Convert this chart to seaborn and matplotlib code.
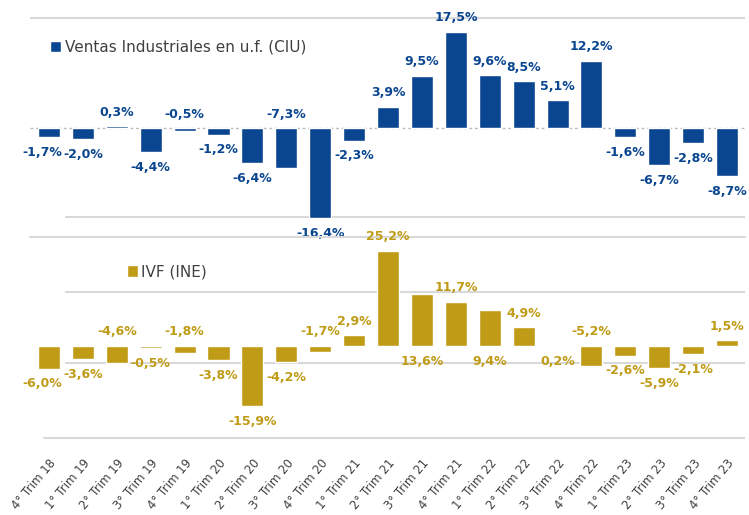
import matplotlib
matplotlib.use("Agg")
import matplotlib.pyplot as plt
from matplotlib.patches import Patch
import seaborn as sns
import pandas as pd

trimestres = ["4° Trim 18", "1° Trim 19", "2° Trim 19", "3° Trim 19", "4° Trim 19",
              "1° Trim 20", "2° Trim 20", "3° Trim 20", "4° Trim 20",
              "1° Trim 21", "2° Trim 21", "3° Trim 21", "4° Trim 21",
              "1° Trim 22", "2° Trim 22", "3° Trim 22", "4° Trim 22",
              "1° Trim 23", "2° Trim 23", "3° Trim 23", "4° Trim 23"]
ventas_ciu = [-1.7, -2.0, 0.3, -4.4, -0.5, -1.2, -6.4, -7.3, -16.4, -2.3, 3.9,
              9.5, 17.5, 9.6, 8.5, 5.1, 12.2, -1.6, -6.7, -2.8, -8.7]
ivf_ine = [-6.0, -3.6, -4.6, -0.5, -1.8, -3.8, -15.9, -4.2, -1.7, 2.9, 25.2,
           13.6, 11.7, 9.4, 4.9, 0.2, -5.2, -2.6, -5.9, -2.1, 1.5]
# a = etiqueta arriba, b = etiqueta abajo (como en el original)
pos_ciu = ["b", "b", "a", "b", "a", "b", "b", "a", "b", "b", "a",
           "a", "a", "a", "a", "a", "a", "b", "b", "b", "b"]
pos_ivf = ["b", "b", "a", "b", "a", "b", "b", "b", "a", "a", "a",
           "b", "a", "b", "a", "b", "a", "b", "b", "b", "a"]

AZUL = "#0A4690"
ORO = "#C09B16"
GRIS = "#D9D9D9"
TXT = "#404040"

df = pd.DataFrame({"trim": trimestres, "ciu": ventas_ciu, "ivf": ivf_ine})

sns.set_theme(style="white")
plt.rcParams["font.family"] = ["DejaVu Sans"]

W, H = 749, 515
fig = plt.figure(figsize=(W / 100, H / 100), dpi=100)
L, R = 30, 745
ax1 = fig.add_axes([L / W, 1 - 237 / H, (R - L) / W, 223 / H])
ax2 = fig.add_axes([L / W, 1 - 440 / H, (R - L) / W, 203 / H])

xlim = (-0.56, 20.53)


def etiquetas(ax, vals, pos, color):
    for i, (v, p) in enumerate(zip(vals, pos)):
        txt = f"{v:.1f}%".replace(".", ",")
        if p == "a":
            y, off = max(v, 0), 10
        else:
            y, off = min(v, 0), -11
        dx = -5 if i == 0 else 0
        ax.annotate(txt, (i, y), xytext=(dx, off), textcoords="offset points",
                    ha="center", va="center", fontsize=9, fontweight="bold",
                    color=color)


# panel superior
sns.barplot(data=df, x="trim", y="ciu", color=AZUL, saturation=1, width=0.65, ax=ax1)
ax1.set_xlim(xlim)
ax1.set_ylim(-19.8, 20.7)
ax1.axhline(20, color=GRIS, lw=1.5, zorder=0)
ax1.axhline(-16.2, xmin=0.05, color=GRIS, lw=1.5, zorder=0)
ax1.axhline(0, color="#BBBBBB", lw=1, ls=(0, (2, 2)), zorder=0)
etiquetas(ax1, ventas_ciu, pos_ciu, AZUL)
ax1.legend(handles=[Patch(facecolor=AZUL)], labels=["Ventas Industriales en u.f. (CIU)"],
           loc="center left", bbox_to_anchor=(0.028, 0.852), frameon=False,
           handlelength=0.75, handleheight=0.75, handletextpad=0.2,
           borderpad=0, borderaxespad=0, fontsize=11, labelcolor=TXT)

# panel inferior
sns.barplot(data=df, x="trim", y="ivf", color=ORO, saturation=1, width=0.65, ax=ax2)
ax2.set_xlim(xlim)
ax2.set_ylim(-24.9, 28.8)
ax2.axhline(28.8, color=GRIS, lw=1.5, zorder=0, clip_on=False)
ax2.axhline(14.3, xmin=0.05, color=GRIS, lw=1.5, zorder=0)
ax2.axhline(-4.5, xmin=0.05, color=GRIS, lw=1.5, zorder=0)
ax2.axhline(-24.3, xmin=0.02, color=GRIS, lw=1.5, zorder=0)
etiquetas(ax2, ivf_ine, pos_ivf, ORO)
ax2.legend(handles=[Patch(facecolor=ORO)], labels=["IVF (INE)"],
           loc="center left", bbox_to_anchor=(0.135, 0.828), frameon=False,
           handlelength=0.75, handleheight=0.75, handletextpad=0.2,
           borderpad=0, borderaxespad=0, fontsize=11, labelcolor=TXT)

for ax in (ax1, ax2):
    sns.despine(ax=ax, left=True, bottom=True)
    ax.set_yticks([])
    ax.set_xlabel("")
    ax.set_ylabel("")
    ax.set_facecolor("none")

ax1.set_xticks([])
ax2.set_xticks(range(len(trimestres)))
ax2.set_xticklabels(trimestres, rotation=50, ha="right", rotation_mode="anchor",
                    fontsize=8.5, color=TXT)
ax2.tick_params(axis="x", length=0, pad=12)

fig.savefig("out.png", dpi=100, facecolor="white")
